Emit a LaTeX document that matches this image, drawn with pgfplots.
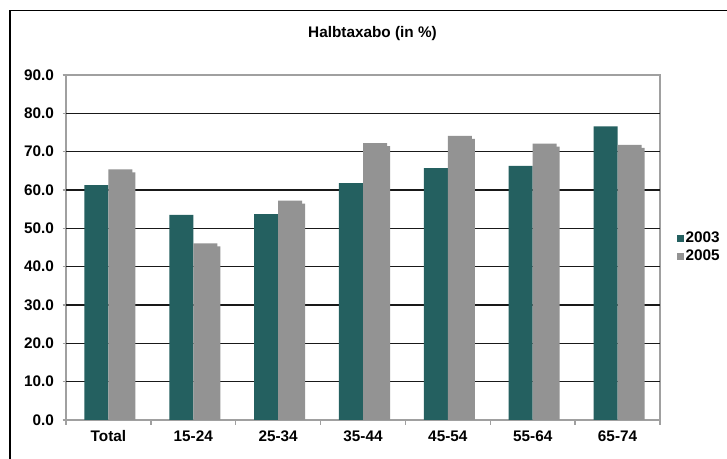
\documentclass[border=0pt]{standalone}
\usepackage{pgfplots}
\pgfplotsset{compat=1.18}
\usepackage{fontspec}
\setmainfont{Liberation Sans}
\definecolor{teal03}{RGB}{36,96,96}
\definecolor{gray05}{RGB}{147,147,147}
\definecolor{axgray}{RGB}{160,160,160}
\begin{document}
\begin{tikzpicture}
\useasboundingbox (0,0) rectangle (545.25pt,344.25pt);
\fill[white] (0,0) rectangle (545.25pt,344.25pt);
\draw[black, line width=1.1pt] (7.5pt,-5pt) -- (7.5pt,336.4pt) -- (560pt,336.4pt);
\begin{axis}[
  at={(49.5pt,29.25pt)}, anchor=south west,
  scale only axis, width=445.5pt, height=258.75pt,
  xmin=0, xmax=7, ymin=0, ymax=90,
  ybar, bar width=18pt,
  font=\fontsize{11.5}{13.8}\selectfont\bfseries,
  /pgf/number format/assume math mode=true,
  xtick pos=bottom, ytick pos=left,
  xtick={0.5,1.5,...,6.5},
  xticklabels={Total,15-24,25-34,35-44,45-54,55-64,65-74},
  minor xtick={0,1,...,7},
  major x tick style={draw=none},
  minor x tick style={axgray, line width=1pt},
  minor tick length=3.5pt,
  ytick={0,10,...,90},
  y tick style={axgray, line width=1pt},
  major tick length=2.5pt,
  tick align=outside,
  xticklabel style={yshift=-2pt},
  yticklabel style={/pgf/number format/.cd, fixed, fixed zerofill, precision=1, /tikz/.cd, xshift=-3pt},
  axis line style={axgray, line width=1.1pt},
  extra y ticks={10,20,...,80},
  extra y tick labels={},
  extra y tick style={grid=major, major tick length=0pt, grid style={black!90, line width=1pt}},
  title={Halbtaxabo (in \%)},
  title style={at={(0.516,1.096)}, anchor=center, font=\fontsize{11.5}{13.8}\selectfont\bfseries},
  legend style={at={(1.0286,0.5)}, anchor=west, draw=none, fill=none, inner sep=0pt, row sep=2pt,
    nodes={inner sep=1pt}, font=\fontsize{11.5}{13.8}\selectfont\bfseries},
  legend cell align=left,
  legend image code/.code={\fill[#1] (0pt,-2.6pt) rectangle (5.25pt,2.6pt);},
]
\addplot[fill=gray05, draw=none, bar shift=11.25pt, yshift=-2.25pt, forget plot] coordinates {
 (0.5,65.4) (1.5,46.1) (2.5,57.2) (3.5,72.2) (4.5,74.1) (5.5,72.1) (6.5,71.8)};
\addplot[fill=teal03, draw=none, bar shift=-9pt] coordinates {
 (0.5,61.3) (1.5,53.5) (2.5,53.7) (3.5,61.8) (4.5,65.7) (5.5,66.3) (6.5,76.6)};
\addplot[fill=gray05, draw=none, bar shift=9pt] coordinates {
 (0.5,65.4) (1.5,46.1) (2.5,57.2) (3.5,72.2) (4.5,74.1) (5.5,72.1) (6.5,71.8)};
\legend{2003,2005}
\end{axis}
\end{tikzpicture}
\end{document}
